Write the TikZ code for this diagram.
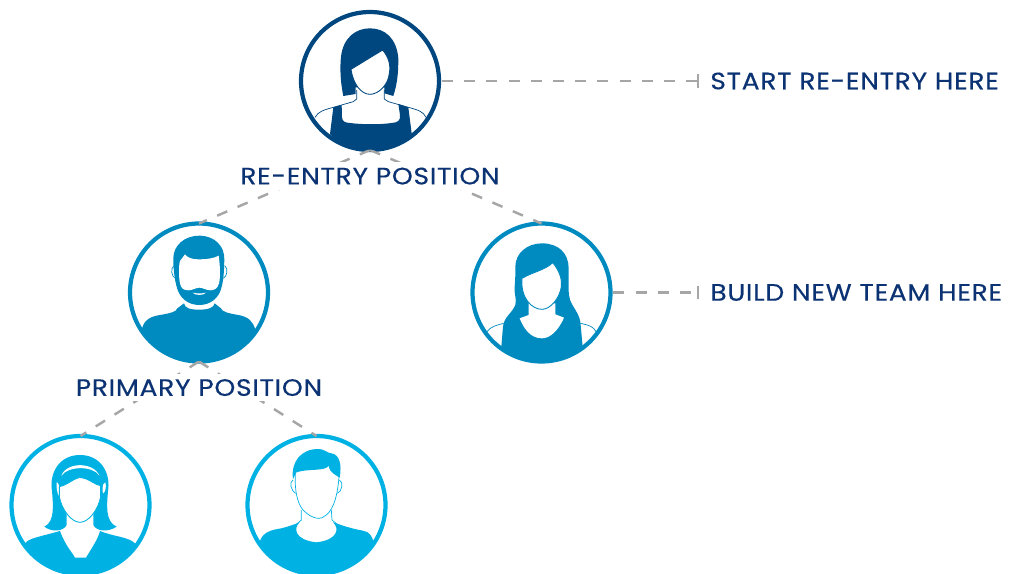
\documentclass[tikz,border=0pt]{standalone}
\usepackage{fontspec}
\setmainfont{Poppins}[FakeStretch=1.12, FakeBold=0.35, LetterSpace=3]
\usetikzlibrary{arrows.meta,positioning}
\definecolor{topblue}{HTML}{00467F}
\definecolor{midblue}{HTML}{008BC0}
\definecolor{lightblue}{HTML}{00B2E3}
\definecolor{labelblue}{HTML}{0B3272}
\definecolor{linkgray}{HTML}{A6A6A6}
\tikzset{
    person/.style={circle, line width=2.4pt, minimum size=2.76cm, inner sep=0pt, outer sep=0pt}, % ring of a portrait
    link/.style={draw=linkgray, line width=1.4pt, dash pattern=on 0.22cm off 0.224cm},
    caption/.style={text=labelblue, font=\fontsize{13.5}{15}\selectfont, inner sep=0pt}
}

\begin{document}
\begin{tikzpicture}[x=0.02cm, y=-0.02cm]
    \useasboundingbox (0,0) rectangle (1014,574);

    \node[person, draw=topblue] (reentry) at (370,81) {};
    \node[person, draw=midblue] (primary) at (199,292.5) {};
    \node[person, draw=midblue] (newteam) at (541.5,292.5) {};
    \node[person, draw=lightblue] (leafa) at (80.5,505) {};
    \node[person, draw=lightblue] (leafb) at (316.5,505) {};
    \coordinate (startend) at (699,81);
    \coordinate (buildend) at (699,292.5);

    \draw[link] (reentry.south) -- (primary.north);
    \draw[link] (reentry.south) -- (newteam.north);
    \draw[link] (primary.south) -- (leafa.north);
    \draw[link] (primary.south) -- (leafb.north);
    \draw[link, shorten <=0.06cm, -{Bar[width=0.28cm, length=0pt]}] (reentry.east) -- (startend);
    \draw[link, shorten <=0.06cm, -{Bar[width=0.28cm, length=0pt]}] (newteam.east) -- (buildend);

    \node[caption, right=0.22cm of startend] (starttext) {START RE-ENTRY HERE};
    \node[caption, right=0.22cm of buildend] (buildtext) {BUILD NEW TEAM HERE};
    \node[caption, fill=white, inner sep=3pt, below=0.24cm of reentry] (reentrytext) {RE-ENTRY POSITION};
    \node[caption, fill=white, inner sep=3pt, below=0.24cm of primary] (primarytext) {PRIMARY POSITION};

    % top portrait
    \begin{scope}[shift={(290,0)}, scale=1/3]
        \clip (240,243) circle (206);
        \fill[topblue] (160,288) .. controls (150,240) and (150,200) .. (153,170) .. controls (160,110) and (200,85) .. (240,85) .. controls (285,85) and (320,115) .. (325,175) .. controls (325,220) and (322,250) .. (310,288) -- (283,280) -- (283,262) -- (197,262) -- (197,282) -- cycle;
        \fill[topblue] (120,402) -- (130,322) -- (155,315) -- (156,350) .. controls (156,365) and (165,368) .. (180,369) .. controls (220,374) and (270,374) .. (305,369) .. controls (325,368) and (332,360) .. (330,345) -- (325,312) -- (355,322) -- (365,400) -- (300,470) -- (180,470) -- cycle;
        \filldraw[fill=white, draw=topblue, line width=0.5pt] (183,208) -- (278,150) .. controls (295,170) and (303,195) .. (298,220) .. controls (295,255) and (265,283) .. (240,283) .. controls (215,283) and (190,255) .. (183,208) -- cycle;
        \draw[topblue, line width=0.4pt] (200,270) -- (200,297) -- (190,305) -- (130,322) .. controls (100,330) and (85,335) .. (75,352);
        \draw[topblue, line width=0.4pt] (283,270) -- (283,297) -- (295,305) -- (355,322) .. controls (385,330) and (400,335) .. (408,352);
    \end{scope}

    % bearded man
    \begin{scope}[shift={(120,215)}, scale=1/3]
        \clip (238,232) circle (206);
        \fill[midblue] (65,345) .. controls (70,320) and (85,305) .. (120,300) .. controls (150,295) and (170,290) .. (172,280) -- (192,265) .. controls (195,280) and (210,284) .. (238,284) .. controls (265,284) and (282,278) .. (284,265) -- (303,280) .. controls (305,290) and (325,295) .. (355,300) .. controls (385,305) and (400,320) .. (406,345) -- (400,460) -- (70,460) -- cycle;
        \fill[midblue] (238,62) .. controls (285,62) and (315,95) .. (313,135) .. controls (312,160) and (312,190) .. (305,215) .. controls (298,250) and (270,270) .. (238,270) .. controls (205,270) and (178,250) .. (170,215) .. controls (163,190) and (160,160) .. (160,130) .. controls (160,90) and (195,62) .. (238,62) -- cycle;
        \fill[white] (180,138) -- (195,118) .. controls (203,128) and (215,133) .. (235,133) .. controls (260,133) and (283,130) .. (296,122) .. controls (300,150) and (302,185) .. (297,205) .. controls (292,222) and (285,224) .. (272,226) .. controls (258,226) and (248,218) .. (238,218) .. controls (228,218) and (218,226) .. (204,226) .. controls (190,224) and (184,222) .. (180,205) .. controls (176,185) and (176,150) .. (180,138) -- cycle;
        \fill[white] (218,233) .. controls (230,236) and (246,236) .. (258,233) .. controls (252,242) and (224,242) .. (218,233) -- cycle;
        \draw[midblue, line width=0.4pt] (162,152) .. controls (150,160) and (155,185) .. (166,190);
        \draw[midblue, line width=0.4pt] (314,152) .. controls (326,160) and (321,185) .. (310,190);
    \end{scope}

    % long haired woman
    \begin{scope}[shift={(462,215)}, scale=1/3]
        \clip (239,232) circle (206);
        \fill[midblue] (240,85) .. controls (290,85) and (320,115) .. (320,160) .. controls (320,200) and (318,225) .. (322,245) .. controls (325,270) and (350,290) .. (355,320) -- (362,395) -- (300,470) -- (180,470) -- (118,395) -- (123,335) .. controls (126,305) and (150,295) .. (160,270) .. controls (165,250) and (155,235) .. (158,215) .. controls (160,195) and (160,175) .. (160,155) .. controls (160,115) and (195,85) .. (240,85) -- cycle;
        \fill[white] (173,310) -- (200,300) -- (200,265) -- (280,265) -- (280,298) -- (306,308) .. controls (290,345) and (265,370) .. (240,370) .. controls (205,370) and (185,340) .. (173,310) -- cycle;
        \filldraw[fill=white, draw=midblue, line width=0.5pt] (180,190) .. controls (215,170) and (250,165) .. (272,143) .. controls (295,170) and (300,195) .. (298,215) .. controls (293,250) and (265,283) .. (240,283) .. controls (210,283) and (175,250) .. (180,190) -- cycle;
        \draw[midblue, line width=0.4pt] (75,350) .. controls (85,335) and (105,330) .. (125,325);
        \draw[midblue, line width=0.4pt] (355,325) .. controls (380,330) and (395,335) .. (402,350);
    \end{scope}

    % woman with headband
    \begin{scope}[shift={(0,425)}, scale=1/3]
        \clip (241,240) circle (206);
        \fill[lightblue] (75,355) .. controls (85,340) and (120,335) .. (180,318) .. controls (195,360) and (215,380) .. (225,398) -- (258,398) .. controls (275,370) and (295,340) .. (300,318) .. controls (340,335) and (385,335) .. (405,355) -- (400,470) -- (80,470) -- cycle;
        \fill[lightblue] (240,90) .. controls (300,90) and (330,140) .. (325,190) .. controls (320,240) and (315,290) .. (350,305) .. controls (325,322) and (290,320) .. (280,300) -- (280,265) -- (200,265) -- (200,300) .. controls (190,320) and (155,322) .. (133,305) .. controls (165,290) and (160,240) .. (155,190) .. controls (150,140) and (180,90) .. (240,90) -- cycle;
        \fill[white] (184,152) .. controls (200,110) and (280,110) .. (298,152) .. controls (280,122) and (205,122) .. (184,152) -- cycle;
        \fill[white] (170,172) .. controls (180,172) and (180,210) .. (176,212) .. controls (172,205) and (168,185) .. (170,172) -- cycle;
        \fill[white] (316,172) .. controls (306,172) and (306,205) .. (310,205) .. controls (316,200) and (320,185) .. (316,172) -- cycle;
        \filldraw[fill=white, draw=lightblue, line width=0.5pt] (178,185) .. controls (205,180) and (225,155) .. (245,158) .. controls (265,160) and (285,180) .. (302,182) -- (302,215) .. controls (295,255) and (265,292) .. (240,292) .. controls (215,292) and (185,255) .. (178,215) -- cycle;
    \end{scope}

    % short haired man
    \begin{scope}[shift={(238,425)}, scale=1/3]
        \clip (236,240) circle (206);
        \fill[lightblue] (65,350) .. controls (75,320) and (100,315) .. (130,310) .. controls (150,305) and (170,298) .. (185,292) .. controls (165,310) and (170,345) .. (235,352) .. controls (300,345) and (305,310) .. (285,292) .. controls (310,300) and (335,310) .. (375,317) .. controls (395,320) and (403,335) .. (406,350) -- (400,470) -- (70,470) -- cycle;
        \fill[lightblue] (165,162) .. controls (158,110) and (190,72) .. (240,72) .. controls (255,70) and (270,85) .. (280,85) .. controls (305,88) and (312,120) .. (305,158) .. controls (295,150) and (275,145) .. (272,122) .. controls (262,140) and (210,130) .. (175,142) -- cycle;
        \draw[lightblue, line width=0.4pt] (172,145) .. controls (170,190) and (175,230) .. (195,255) .. controls (225,285) and (250,285) .. (265,270) .. controls (290,250) and (300,200) .. (303,155);
        \draw[lightblue, line width=0.4pt] (165,165) .. controls (152,170) and (160,200) .. (173,205);
        \draw[lightblue, line width=0.4pt] (304,165) .. controls (318,170) and (312,200) .. (298,205);
        \draw[lightblue, line width=0.4pt] (190,255) -- (190,285) -- (175,298);
        \draw[lightblue, line width=0.4pt] (280,255) -- (282,285) -- (298,298);
    \end{scope}
\end{tikzpicture}
\end{document}
